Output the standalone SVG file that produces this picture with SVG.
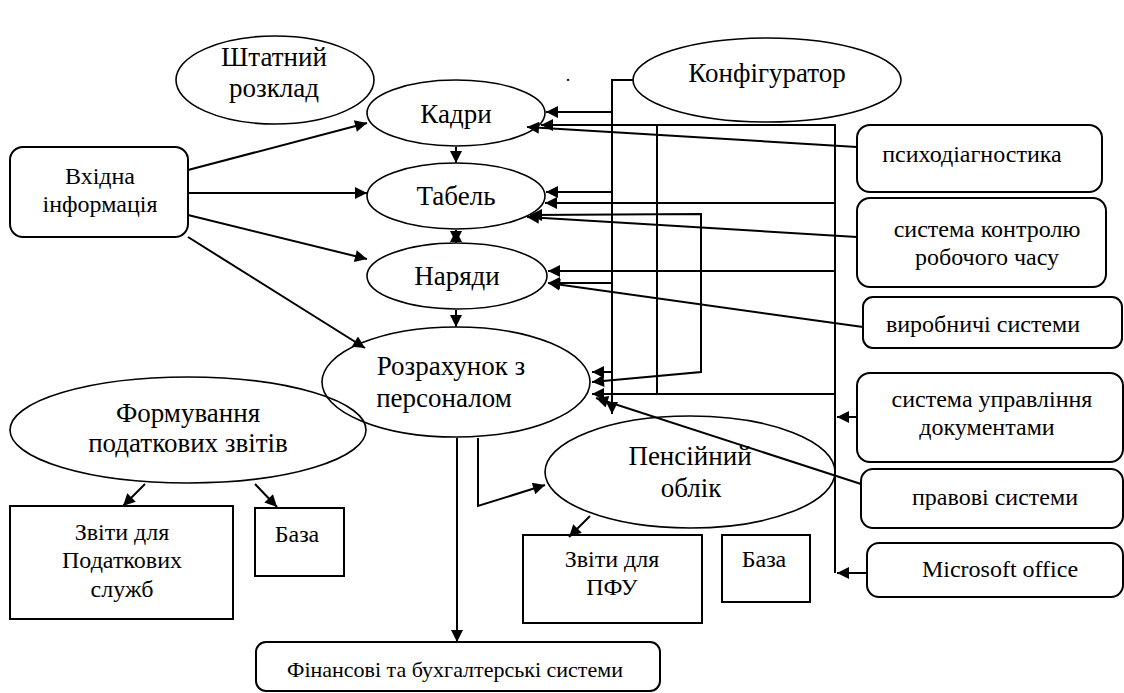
<svg xmlns="http://www.w3.org/2000/svg" width="1124" height="693" viewBox="0 0 1124 693">
<style>
.sh{fill:none;stroke:#000;stroke-width:1.6}
.bx{fill:#fff;stroke:#000;stroke-width:2}
text{font-family:"Liberation Serif","Times New Roman",serif;text-anchor:middle;fill:#000}
.t{font-size:27px}
.s{font-size:24px}
.c{fill:none;stroke:#000;stroke-width:2}
.a{marker-end:url(#ar)}
.b{marker-start:url(#as);marker-end:url(#ar)}
</style>
<defs>
<marker id="ar" viewBox="0 0 10 10" refX="10" refY="5" markerWidth="14" markerHeight="12" markerUnits="userSpaceOnUse" orient="auto"><path d="M0,0 L10,5 L0,10 z" fill="#000"/></marker>
<marker id="as" viewBox="0 0 10 10" refX="0" refY="5" markerWidth="14" markerHeight="12" markerUnits="userSpaceOnUse" orient="auto"><path d="M10,0 L0,5 L10,10 z" fill="#000"/></marker>
</defs>
<rect width="1124" height="693" fill="#fff"/>

<g id="shtat"><ellipse class="sh" cx="275" cy="80" rx="99" ry="44"/><text class="t" x="274" y="66">Штатний</text><text class="t" x="274" y="97">розклад</text></g>
<g id="kadry"><ellipse class="sh" cx="456" cy="113" rx="89" ry="33"/><text class="t" x="456" y="123">Кадри</text></g>
<g id="tabel"><ellipse class="sh" cx="456" cy="196" rx="89" ry="33"/><text class="t" x="456" y="205">Табель</text></g>
<g id="naryady"><ellipse class="sh" cx="457" cy="276" rx="90" ry="33"/><text class="t" x="457" y="285">Наряди</text></g>
<g id="rozrahunok"><ellipse class="sh" cx="456" cy="382" rx="134" ry="55"/><text class="t" x="451" y="375">Розрахунок з</text><text class="t" x="444" y="407">персоналом</text></g>
<g id="formuvannya"><ellipse class="sh" cx="188" cy="430" rx="178" ry="53"/><text class="t" x="188" y="422">Формування</text><text class="t" x="188" y="452">податкових звітів</text></g>
<g id="pensiyniy"><ellipse class="sh" cx="690" cy="472" rx="145" ry="56"/><text class="t" x="690" y="465">Пенсійний</text><text class="t" x="691" y="497">облік</text></g>
<g id="konfigurator"><ellipse class="sh" cx="767" cy="80" rx="134" ry="42"/><text class="t" x="767" y="82">Конфігуратор</text></g>
<text x="568" y="81" style="font-size:18px">.</text>

<g id="vhidna"><rect class="bx" x="10" y="147" width="178" height="90" rx="13"/><text class="s" x="100" y="184">Вхідна</text><text class="s" x="100" y="212">інформація</text></g>
<g id="zvity-podat"><rect class="bx" x="10" y="506" width="223" height="113"/><text class="s" x="122" y="540">Звіти для</text><text class="s" x="122" y="568">Податкових</text><text class="s" x="122" y="597">служб</text></g>
<g id="baza1"><rect class="bx" x="255" y="508" width="89" height="68"/><text class="s" x="297" y="542">База</text></g>
<g id="finansovi"><rect class="bx" x="256" y="642" width="404" height="49" rx="10"/><text class="s" x="455" y="677" style="font-size:22px">Фінансові та бухгалтерські системи</text></g>
<g id="zvity-pfu"><rect class="bx" x="523" y="535" width="179" height="88"/><text class="s" x="612" y="567">Звіти для</text><text class="s" x="612" y="595">ПФУ</text></g>
<g id="baza2"><rect class="bx" x="722" y="535" width="88" height="67"/><text class="s" x="764" y="567">База</text></g>
<g id="psyho"><rect class="bx" x="857" y="125" width="245" height="67" rx="13"/><text class="s" x="972" y="162">психодіагностика</text></g>
<g id="kontrol"><rect class="bx" x="857" y="198" width="249" height="89" rx="13"/><text class="s" x="987" y="237">система контролю</text><text class="s" x="987" y="265">робочого часу</text></g>
<g id="vyrobnychi"><rect class="bx" x="863" y="297" width="259" height="51" rx="10"/><text class="s" x="983" y="332">виробничі системи</text></g>
<g id="upravlinnya"><rect class="bx" x="857" y="373" width="266" height="89" rx="13"/><text class="s" x="992" y="407">система управління</text><text class="s" x="987" y="435">документами</text></g>
<g id="pravovi"><rect class="bx" x="861" y="469" width="262" height="59" rx="12"/><text class="s" x="995" y="505">правові системи</text></g>
<g id="msoffice"><rect class="bx" x="867" y="543" width="256" height="54" rx="12"/><text class="s" x="1000" y="577">Microsoft office</text></g>

<g id="connectors">
<path class="c a" d="M188,170 L367,123"/>
<path class="c a" d="M188,193 L367,193"/>
<path class="c a" d="M188,215 L367,259"/>
<path class="c a" d="M188,237 L365,348"/>
<path class="c a" d="M456,147 L456,163"/>
<path class="c b" d="M456,230 L456,243"/>
<path class="c a" d="M456,310 L456,327"/>
<path class="c a" d="M457,438 L457,642"/>
<path class="c a" d="M478,438 L478,506 L545,485"/>
<path class="c a" d="M145,484 L123,506"/>
<path class="c a" d="M255,484 L277,507"/>
<path class="c a" d="M590,516 L569,537"/>
<path class="c a" d="M633,80 L612,80 L612,414"/>
<path class="c a" d="M612,112 L546,112"/>
<path class="c a" d="M612,192 L546,192"/>
<path class="c a" d="M612,283 L548,283"/>
<path class="c a" d="M612,372 L592,372"/>
<path class="c a" d="M835,573 L835,125 L541,125"/>
<path class="c" d="M657,125 L657,394"/>
<path class="c a" d="M835,394 L592,394"/>
<path class="c a" d="M835,203 L545,203"/>
<path class="c a" d="M835,271 L548,271"/>
<path class="c b" d="M530,215 L701,214 L701,372 L592,382"/>
<path class="c a" d="M857,147 L527,127"/>
<path class="c a" d="M857,237 L527,217"/>
<path class="c a" d="M863,327 L548,283"/>
<path class="c a" d="M861,484 L596,398"/>
<path class="c a" d="M857,417 L837,417"/>
<path class="c a" d="M867,573 L837,573"/>
</g>
</svg>
